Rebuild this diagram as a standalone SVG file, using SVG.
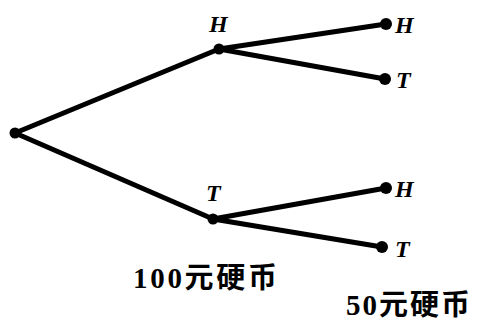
<svg xmlns="http://www.w3.org/2000/svg" width="479" height="320" viewBox="0 0 479 320">
<style>
.e{stroke:#000;stroke-width:5;stroke-linecap:round;fill:none}
.d{fill:#000}
.l{font-family:"Liberation Serif",serif;font-style:italic;font-weight:bold;font-size:24px;fill:#000}
.c{font-family:"Liberation Serif","Noto Sans CJK SC",serif;font-weight:bold;font-size:29px;fill:#000}
</style>
<rect width="479" height="320" fill="#fff"/>
<g id="connectors">
<line class="e" x1="15" y1="133" x2="219" y2="49"/>
<line class="e" x1="15" y1="133" x2="213" y2="219"/>
<line class="e" x1="219" y1="49" x2="386" y2="24"/>
<line class="e" x1="219" y1="49" x2="385" y2="79"/>
<line class="e" x1="213" y1="219" x2="386" y2="188"/>
<line class="e" x1="213" y1="219" x2="382" y2="247"/>
</g>
<g id="root"><circle class="d" cx="15" cy="133" r="5.5"/></g>
<g id="n100H"><circle class="d" cx="219" cy="49" r="5.5"/><text class="l" x="209" y="32">H</text></g>
<g id="n100T"><circle class="d" cx="213" cy="219" r="5.5"/><text class="l" x="206" y="201">T</text></g>
<g id="nHH"><circle class="d" cx="386" cy="24" r="6"/><text class="l" x="395" y="33">H</text></g>
<g id="nHT"><circle class="d" cx="385" cy="79" r="6"/><text class="l" x="396" y="88">T</text></g>
<g id="nTH"><circle class="d" cx="386" cy="188" r="6"/><text class="l" x="395" y="197">H</text></g>
<g id="nTT"><circle class="d" cx="382" cy="247" r="6"/><text class="l" x="395" y="257">T</text></g>
<text class="c" x="133" y="288" textLength="144" lengthAdjust="spacing">100元硬币</text>
<text class="c" x="346" y="315" textLength="124" lengthAdjust="spacing">50元硬币</text>
</svg>
